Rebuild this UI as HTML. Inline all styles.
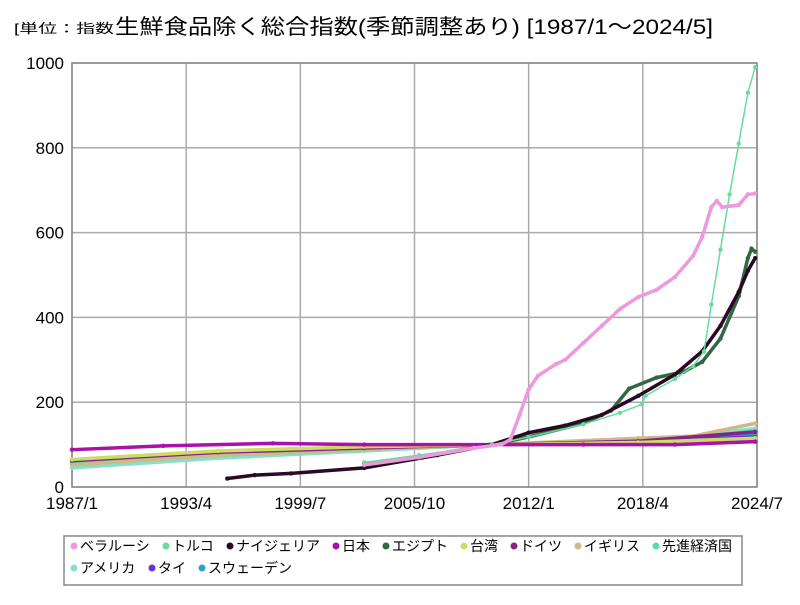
<!DOCTYPE html>
<html><head><meta charset="utf-8"><style>
body{margin:0;background:#fff;width:800px;height:600px;overflow:hidden;font-family:"Liberation Sans","Noto Sans CJK JP",sans-serif}
svg text{font-family:"Liberation Sans","Noto Sans CJK JP",sans-serif}
</style></head><body>
<svg id="c" width="800" height="600">
<text x="14" y="33" font-size="13" textLength="100" lengthAdjust="spacingAndGlyphs">[単位：指数</text>
<text x="115" y="34" font-size="21" textLength="598" lengthAdjust="spacingAndGlyphs">生鮮食品除く総合指数(季節調整あり) [1987/1～2024/5]</text>
<g id="grid"></g><g id="series"></g>
<rect x="64" y="536" width="678" height="49" fill="none" stroke="#888" stroke-width="1.5"/>
<g id="legend"></g>
</svg>
<script>
const xTicks=["1987/1","1993/4","1999/7","2005/10","2012/1","2018/4","2024/7"];
const xTickYears=[1987,1993.25,1999.5,2005.75,2012,2018.25,2024.5];
const yTicks=[0,200,400,600,800,1000];
const names=["ベラルーシ","トルコ","ナイジェリア","日本","エジプト","台湾","ドイツ","イギリス","先進経済国","アメリカ","タイ","スウェーデン"];
const colors=["#ee99dd","#66dd99","#2a0a22","#aa11aa","#336644","#ccdd66","#882288","#ccbb88","#55ddaa","#88e0cc","#6633dd","#22aabb"];
const belarus=[[2003,52],[2006,70],[2009,92],[2010.5,100],[2011,112],[2011.5,170],[2012,230],[2012.5,262],[2013.5,290],[2014,300],[2015,340],[2016,380],[2017,420],[2018,448],[2019,465],[2020,495],[2021,545],[2021.5,590],[2022,660],[2022.3,675],[2022.6,660],[2023.5,665],[2024,690],[2024.4,692]];
const turkey=[[2003,58],[2006,75],[2010,100],[2012,118],[2015,148],[2017,175],[2018.2,195],[2018.4,215],[2020,255],[2021,285],[2021.6,320],[2022,430],[2022.5,560],[2023,690],[2023.5,810],[2024,930],[2024.4,990]];
const nigeria=[[1995.5,20],[1997,28],[1999,32],[2003,45],[2007,75],[2010,100],[2012,128],[2014,145],[2016,170],[2018,215],[2020,265],[2021.5,320],[2022.5,380],[2023.5,460],[2024,510],[2024.4,540]];
const egypt=[[2003,55],[2007,78],[2010,100],[2012,118],[2015,150],[2016.5,180],[2017.5,232],[2019,258],[2020.5,272],[2021.5,295],[2022.5,350],[2023.5,450],[2024,540],[2024.2,562],[2024.4,555]];
const japan=[[1987,88],[1992,97],[1998,103],[2003,100],[2010,100],[2015,100],[2020,100],[2024.4,107]];
const taiwan=[[1987,65],[1995,85],[2003,95],[2010,100],[2018,105],[2024.4,115]];
const germany=[[1987,62],[1995,82],[2003,92],[2010,100],[2018,108],[2024.4,130]];
const uk=[[1987,52],[1995,75],[2003,88],[2010,100],[2018,115],[2021,120],[2024.4,150]];
const advanced=[[1987,55],[1995,75],[2003,88],[2010,100],[2018,112],[2021,118],[2024.4,132]];
const usa=[[1987,45],[1995,68],[2003,85],[2010,100],[2018,113],[2021,120],[2024.4,138]];
const thai=[[1987,55],[1995,75],[2003,90],[2010,100],[2018,107],[2024.4,118]];
const sweden=[[1987,60],[1995,80],[2003,92],[2010,100],[2018,105],[2024.4,122]];
const allSeries=[belarus,turkey,nigeria,japan,egypt,taiwan,germany,uk,advanced,usa,thai,sweden];
const L=72,R=757,T=63,B=487;
const xs=y=>L+(y-1987)/(2024.5-1987)*(R-L);
const ys=v=>B-v/1000*(B-T);
const NS="http://www.w3.org/2000/svg";
function mk(t,a,p){const e=document.createElementNS(NS,t);for(const k in a)e.setAttribute(k,a[k]);p.appendChild(e);return e;}
const g=document.getElementById('grid');
yTicks.forEach(v=>{const l=mk('line',{x1:L,x2:R,y1:ys(v),y2:ys(v),stroke:'#aaa','stroke-width':1.5},g);


const t=mk('text',{x:L-8,y:ys(v)+6,'text-anchor':'end','font-size':17},g);t.textContent=v;

});
xTicks.forEach((s,i)=>{const x=xs(xTickYears[i]);const l=mk('line',{x1:x,x2:x,y1:T,y2:B,stroke:'#aaa','stroke-width':1.5},g);


const t=mk('text',{x:x,y:B+22,'text-anchor':'middle','font-size':17},g);t.textContent=s;

});
const fr=mk('rect',{x:L,y:T,width:R-L,height:B-T,fill:'none',stroke:'#888','stroke-width':1.5},g);


const sg=document.getElementById('series');
for(let i=allSeries.length-1;i>=0;i--){const d=allSeries[i];
const gg=mk('g',{},sg);


const pl=mk('polyline',{points:d.map(p=>xs(p[0])+','+ys(p[1])).join(' '),fill:'none',stroke:colors[i],'stroke-width':(i==1?1.5:3.5)},gg);


d.forEach(p=>{const c=mk('circle',{cx:xs(p[0]),cy:ys(p[1]),r:2.2,fill:colors[i]},gg);

});}
const lg=document.getElementById('legend');
let lx=70,ly=551;
names.forEach((n,i)=>{if(i==9){lx=70;ly=573;}
const e=mk('g',{},lg);


mk('circle',{cx:lx+4,cy:ly-5,r:3.5,fill:colors[i]},e);
const t=mk('text',{x:lx+10,y:ly,'font-size':14},e);t.textContent=n;
lx+=10+n.length*14+12;});
</script>
</body></html>
